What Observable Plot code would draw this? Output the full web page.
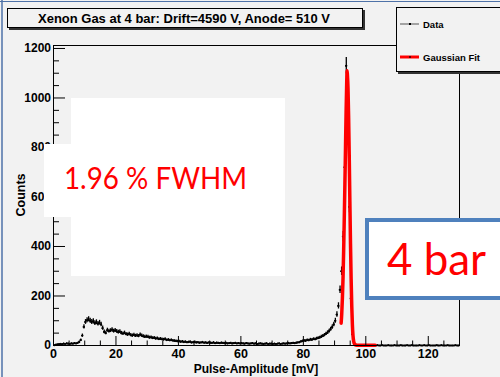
<!DOCTYPE html>
<html><head><meta charset="utf-8">
<script src="https://cdn.jsdelivr.net/npm/d3@7"></script>
<script src="https://cdn.jsdelivr.net/npm/@observablehq/plot@0.6"></script>
<style>
html,body{margin:0;padding:0;background:#f2f2f2;}
#wrap{position:relative;width:500px;height:377px;overflow:hidden;background:#f2f2f2;}
#wrap svg{position:absolute;left:0;top:0;}
</style></head><body><div id="wrap"></div>
<script>
// Histogram counts, 0.5 mV bins, one row per 10 mV
const counts0to10   = [1,3,4,5,6,5,7,6,8,7,6,8,7,9,8,10,14,22,40,75];
const counts10to20  = [95,102,106,100,95,98,90,94,88,92,85,70,55,50,62,58,60,64,58,61];
const counts20to30  = [57,54,56,50,48,51,46,44,47,42,40,43,39,41,38,44,40,37,35,36];
const counts30to40  = [35,32,33,30,31,28,29,26,27,25,24,26,22,23,21,22,20,19,18,17];
const counts40to50  = [17,15,16,14,15,13,14,15,12,13,14,12,13,11,12,13,11,12,10,12];
const counts50to60  = [11,10,12,9,11,10,9,11,10,9,10,8,9,10,8,9,10,8,9,8];
const counts60to70  = [9,8,7,9,8,7,8,9,7,8,6,7,8,7,6,7,8,6,7,7];
const counts70to80  = [6,7,6,7,8,6,7,8,7,8,9,8,9,10,9,11,12,13,16,18];
const counts80to90  = [20,19,22,21,24,23,26,25,28,30,32,35,38,42,47,52,58,66,74,85];
const counts90to100 = [100,125,160,225,300,440,720,1130,1000,560,190,45,10,3,1,1,1,0,1,0];
const counts100to110= [0,1,0,0,1,0,0,1,0,0,1,0,0,0,1,0,0,0,1,0];
const counts110to120= [0,0,1,0,0,0,1,0,0,1,0,0,0,0,1,0,0,1,0,0];
const counts120to130= [1,0,0,0,0,1,0,0,1,0,0,0,1,0,0,0,0,1,0,0];
const binWidth = 0.5;

// Gaussian fit curve
const fitX = [92.1,92.3,92.5,92.7,92.9,93.1,93.3,93.5,93.7,93.9,94.0,94.1,94.3,94.5,94.7,94.9,95.1,95.3,95.5,95.7,95.9,96.1,96.4,96.8,97.5,103];
const fitY = [90,130,190,270,380,510,650,800,950,1070,1110,1095,1040,920,760,580,410,270,160,85,40,18,6,2,1,1];

// Ticks
const yMajor = [0,200,400,600,800,1000,1200];
const yMinor = [50,100,150,250,300,350,450,500,550,650,700,750,850,900,950,1050,1100,1150];
const xMajor = [0,20,40,60,80,100,120];
const xMinor = [5,10,15,25,30,35,45,50,55,65,70,75,85,90,95,105,110,115,125];

const titleText = "Xenon Gas at 4 bar: Drift=4590 V, Anode= 510 V";
const xTitle = "Pulse-Amplitude [mV]";
const yTitle = "Counts";
const legendLabels = ["Data", "Gaussian Fit"];
const note1 = "1.96 % FWHM";
const note2 = "4 bar";

const allCounts = [counts0to10,counts10to20,counts20to30,counts30to40,counts40to50,counts50to60,counts60to70,counts70to80,counts80to90,counts90to100,counts100to110,counts110to120,counts120to130].flat();
const hist = allCounts.map((c, i) => ({x: (i + 0.5) * binWidth, c}));
const fit = fitX.map((x, i) => ({x, y: fitY[i]}));

const font = "'Liberation Sans', Arial, sans-serif";
const chart = Plot.plot({
  width: 500, height: 377,
  marginLeft: 53, marginRight: 41, marginTop: 45, marginBottom: 32,
  style: {background: "transparent", fontFamily: font, color: "#000"},
  x: {domain: [0, 130]},
  y: {domain: [0, 1212]},
  marks: [
    Plot.ruleX(hist, {x: "x", y1: d => Math.max(0, d.c - Math.sqrt(d.c)), y2: d => d.c + Math.sqrt(d.c), stroke: "#000", strokeWidth: 1.3}),
    Plot.ruleY(hist, {y: "c", x1: d => d.x - binWidth / 2, x2: d => d.x + binWidth / 2, stroke: "#000", strokeWidth: 1.3}),
    Plot.dot(hist, {x: "x", y: "c", r: 1.1, fill: "#000", stroke: null}),
    Plot.line(fit, {x: "x", y: "y", stroke: "#ff0000", strokeWidth: 3.5, curve: "monotone-x"}),
    Plot.frame({stroke: "#000", strokeWidth: 1}),
    Plot.axisY({ticks: yMajor, tickSize: -12, fill: "none", label: null}),
    Plot.axisY({ticks: yMinor, tickSize: -6, fill: "none", label: null}),
    Plot.axisY({ticks: yMajor, tickSize: 0, tickPadding: 2.5, tickFormat: d => String(d), fontSize: 12, fontWeight: "bold", label: null}),
    Plot.axisX({ticks: xMajor, tickSize: -9, fill: "none", label: null}),
    Plot.axisX({ticks: xMinor, tickSize: -4.5, fill: "none", label: null}),
    Plot.axisX({ticks: xMajor, tickSize: 0, tickPadding: 4, tickFormat: d => String(d), fontSize: 12.5, fontWeight: "bold", label: null})
  ]
});
document.getElementById("wrap").appendChild(chart);

// Overlay annotations
const ov = d3.select("#wrap").append("svg").attr("width", 500).attr("height", 377)
  .style("font-family", font);
// slide border
ov.append("line").attr("x1", 2).attr("x2", 2).attr("y1", 0).attr("y2", 377).attr("stroke", "#4e72a8").attr("stroke-width", 1.5);
ov.append("line").attr("x1", 0).attr("x2", 500).attr("y1", 1.5).attr("y2", 1.5).attr("stroke", "#4e72a8").attr("stroke-width", 1.2);
// title box
ov.append("rect").attr("x", 9).attr("y", 10).attr("width", 356).attr("height", 20).attr("fill", "#333");
ov.append("rect").attr("x", 7.5).attr("y", 8.5).attr("width", 355).attr("height", 19).attr("fill", "#f2f2f2").attr("stroke", "#000");
ov.append("text").attr("x", 184).attr("y", 22.5).attr("text-anchor", "middle").attr("font-size", 13).attr("font-weight", "bold")
  .attr("textLength", 292).attr("lengthAdjust", "spacingAndGlyphs").text(titleText);
// legend box
ov.append("rect").attr("x", 398).attr("y", 9).attr("width", 110).attr("height", 65).attr("fill", "#333");
ov.append("rect").attr("x", 396.5).attr("y", 7.5).attr("width", 110).attr("height", 64).attr("fill", "#f2f2f2").attr("stroke", "#000");
ov.append("line").attr("x1", 400).attr("x2", 419).attr("y1", 24).attr("y2", 24).attr("stroke", "#555").attr("stroke-width", 1);
ov.append("rect").attr("x", 409).attr("y", 23).attr("width", 2).attr("height", 2).attr("fill", "#000");
ov.append("line").attr("x1", 400).attr("x2", 419).attr("y1", 57).attr("y2", 57).attr("stroke", "#ff0000").attr("stroke-width", 3);
ov.append("rect").attr("x", 409).attr("y", 56).attr("width", 2).attr("height", 2).attr("fill", "#600");
ov.append("text").attr("x", 423).attr("y", 27.5).attr("font-size", 9.5).attr("font-weight", "bold").text(legendLabels[0]);
ov.append("text").attr("x", 423).attr("y", 60.5).attr("font-size", 9.5).attr("font-weight", "bold").text(legendLabels[1]);
// axis titles
ov.append("text").attr("x", 256).attr("y", 373).attr("text-anchor", "middle").attr("font-size", 12).attr("font-weight", "bold").text(xTitle);
ov.append("text").attr("transform", "translate(25,195) rotate(-90)").attr("text-anchor", "middle").attr("font-size", 12.5).attr("font-weight", "bold").text(yTitle);
// white note boxes
ov.append("rect").attr("x", 71).attr("y", 98).attr("width", 214).attr("height", 178).attr("fill", "#fff");
ov.append("rect").attr("x", 44).attr("y", 144).attr("width", 241).attr("height", 73).attr("fill", "#fff");
ov.append("text").attr("x", 64).attr("y", 189).attr("font-family", "Lato, 'Open Sans', sans-serif").attr("font-size", 30).attr("fill", "#ff0000")
  .attr("textLength", 183).attr("lengthAdjust", "spacingAndGlyphs").text(note1);
// 4 bar box
ov.append("rect").attr("x", 367).attr("y", 220).attr("width", 140).attr("height", 78).attr("fill", "#fff").attr("stroke", "#4f81bd").attr("stroke-width", 4);
ov.append("text").attr("x", 387).attr("y", 275).attr("font-family", "Lato, 'Open Sans', sans-serif").attr("font-size", 44).attr("fill", "#ff0000")
  .attr("textLength", 99).attr("lengthAdjust", "spacingAndGlyphs").text(note2);
</script></body></html>
